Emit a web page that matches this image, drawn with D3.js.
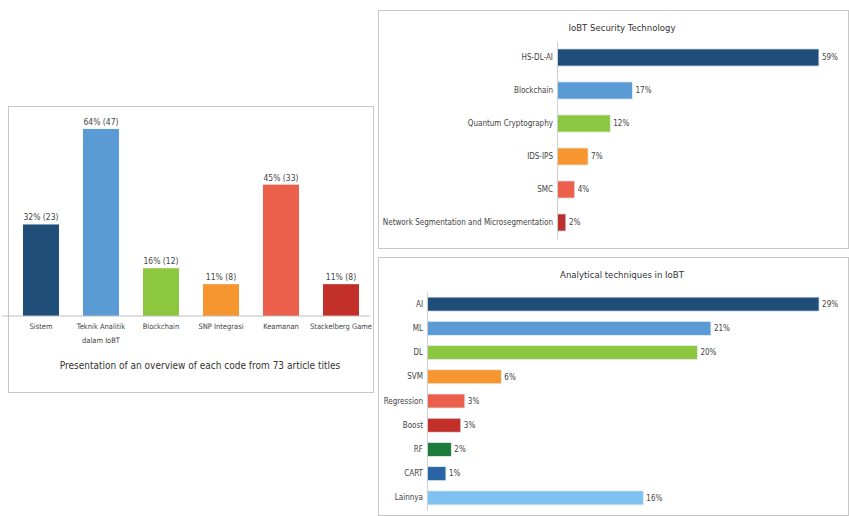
<!DOCTYPE html>
<html>
<head>
<meta charset="utf-8">
<script src="https://cdn.jsdelivr.net/npm/d3@7"></script>
<style>
  body { margin: 0; background: #fff; }
  svg { display: block; font-family: "DejaVu Sans Condensed", "Liberation Sans Narrow", Arial, sans-serif; }
</style>
</head>
<body>
<svg width="849" height="516"></svg>
<script>
// left chart: codes from 73 article titles
const codeNames = ["Sistem", "Teknik Analitik|dalam IoBT", "Blockchain", "SNP Integrasi", "Keamanan", "Stackelberg Game"];
const codeCounts = [23, 47, 12, 8, 33, 8];
const codeLabels = ["32% (23)", "64% (47)", "16% (12)", "11% (8)", "45% (33)", "11% (8)"];
const codeColors = ["#1f4e79", "#5b9bd5", "#8dc63f", "#f7962f", "#ec5f4a", "#c3302a"];

// top right: IoBT security technology
const secNames = ["HS-DL-AI", "Blockchain", "Quantum Cryptography", "IDS-IPS", "SMC", "Network Segmentation and Microsegmentation"];
const secValues = [59, 17, 12, 7, 4, 2];
const secColors = ["#1f4e79", "#5b9bd5", "#8dc63f", "#f7962f", "#ec5f4a", "#b8312c"];

// bottom right: analytical techniques
const techNames = ["AI", "ML", "DL", "SVM", "Regression", "Boost", "RF", "CART", "Lainnya"];
const techValues = [29, 21, 20, 5.5, 2.8, 2.5, 1.8, 1.4, 16];
const techColors = ["#1f4e79", "#5b9bd5", "#8dc63f", "#f7962f", "#ec5f4a", "#c3302a", "#1e7b3a", "#2a64a6", "#7fc1f0"];

const svg = d3.select("svg");

// panel frames
const frames = [[8.5, 106.5, 365, 286], [378.5, 10.5, 470, 238], [378.5, 257.5, 470, 258]];
svg.selectAll("rect.frame").data(frames).enter().append("rect")
  .attr("class", "frame")
  .attr("x", d => d[0]).attr("y", d => d[1])
  .attr("width", d => d[2]).attr("height", d => d[3])
  .attr("fill", "none").attr("stroke", "#c8c8c8");

// ---- left vertical bar chart ----
const xBand = d3.scaleBand().domain(codeNames).range([11, 371]).paddingInner(0.4).paddingOuter(0.2);
const yLin = d3.scaleLinear().domain([0, 50]).range([316, 117]);

const left = svg.append("g");
left.selectAll("rect").data(codeCounts).enter().append("rect")
  .attr("x", (d, i) => xBand(codeNames[i]))
  .attr("y", d => yLin(d))
  .attr("width", xBand.bandwidth())
  .attr("height", d => yLin(0) - yLin(d))
  .attr("fill", (d, i) => codeColors[i]);

left.selectAll("text.val").data(codeCounts).enter().append("text")
  .attr("class", "val")
  .attr("x", (d, i) => xBand(codeNames[i]) + xBand.bandwidth() / 2)
  .attr("y", d => yLin(d) - 4)
  .attr("text-anchor", "middle")
  .attr("font-size", 8.5).attr("fill", "#444")
  .text((d, i) => codeLabels[i]);

const xAxis = left.append("g")
  .attr("transform", "translate(0," + yLin(0) + ")")
  .call(d3.axisBottom(xBand).tickSize(0).tickFormat(""));
xAxis.select(".domain").attr("stroke", "#bdbdbd").attr("d", "M2,0H370");

codeNames.forEach((name, i) => {
  const t = left.append("text")
    .attr("x", xBand(name) + xBand.bandwidth() / 2)
    .attr("y", 329)
    .attr("text-anchor", "middle")
    .attr("font-size", 7.5).attr("fill", "#444");
  name.split("|").forEach((line, j) => {
    t.append("tspan").attr("x", xBand(name) + xBand.bandwidth() / 2).attr("dy", j ? 14 : 0).text(line);
  });
});

left.append("text")
  .attr("x", 200).attr("y", 369)
  .attr("text-anchor", "middle")
  .attr("font-size", 10).attr("fill", "#333")
  .text("Presentation of an overview of each code from 73 article titles");

// ---- horizontal bar chart helper ----
function hbar(names, values, colors, o) {
  const g = svg.append("g");
  const y = d3.scaleBand().domain(names).range([o.top, o.bottom]).paddingInner(o.pad).paddingOuter(o.pad / 2);
  const x = d3.scaleLinear().domain([0, o.max]).range([o.x0, o.x1]);

  g.append("text")
    .attr("x", o.titleX).attr("y", o.titleY)
    .attr("text-anchor", "middle")
    .attr("font-size", 9.5).attr("fill", "#333")
    .text(o.title);

  g.selectAll("rect").data(values).enter().append("rect")
    .attr("x", x(0))
    .attr("y", (d, i) => y(names[i]))
    .attr("width", d => x(d) - x(0))
    .attr("height", y.bandwidth())
    .attr("fill", (d, i) => colors[i])
    .attr("stroke", "#e3eef8").attr("stroke-width", 0.8);

  g.selectAll("text.val").data(values).enter().append("text")
    .attr("class", "val")
    .attr("x", d => x(d) + 3)
    .attr("y", (d, i) => y(names[i]) + y.bandwidth() / 2)
    .attr("dy", "0.35em")
    .attr("font-size", 8).attr("fill", "#444")
    .text(d => Math.round(d) + "%");

  const ax = g.append("g")
    .attr("transform", "translate(" + x(0) + ",0)")
    .call(d3.axisLeft(y).tickSize(0).tickPadding(4));
  ax.select(".domain").attr("stroke", "#d0d0d0");
  ax.selectAll("text").attr("font-size", 8).attr("fill", "#444")
    .attr("font-family", "\"DejaVu Sans Condensed\", \"Liberation Sans Narrow\", Arial, sans-serif");
}

hbar(secNames, secValues, secColors, {
  top: 41, bottom: 239, pad: 0.48, max: 60, x0: 557, x1: 823.4,
  title: "IoBT Security Technology", titleX: 622, titleY: 31
});

hbar(techNames, techValues, techColors, {
  top: 292, bottom: 510, pad: 0.42, max: 30, x0: 427, x1: 832.6,
  title: "Analytical techniques in IoBT", titleX: 622, titleY: 278
});
</script>
</body>
</html>
